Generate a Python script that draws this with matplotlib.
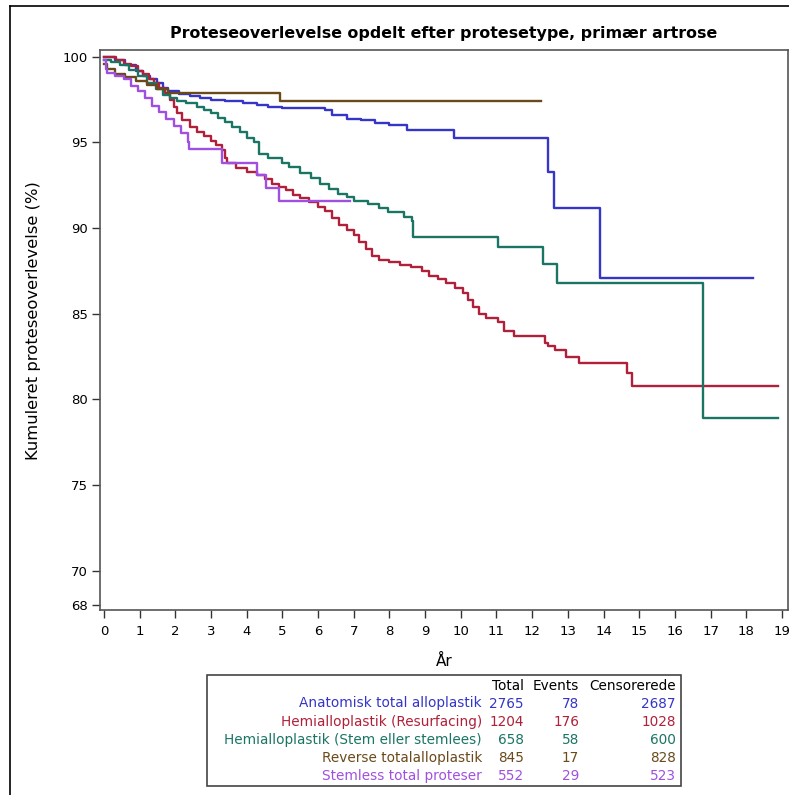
import matplotlib
matplotlib.use("Agg")
import matplotlib.pyplot as plt
from matplotlib.patches import Rectangle
from matplotlib.lines import Line2D

plt.rcParams['font.family'] = ['DejaVu Sans']

# ---------------- data ----------------
names = ["Anatomisk total alloplastik", "Hemialloplastik (Resurfacing)",
         "Hemialloplastik (Stem eller stemlees)", "Reverse totalalloplastik",
         "Stemless total proteser"]
totals = [2765, 1204, 658, 845, 552]
events = [78, 176, 58, 17, 29]
censored = [2687, 1028, 600, 828, 523]
colors = ["#3535C8", "#B0203A", "#1B7565", "#6A4A1A", "#A050E0"]

blue_t = [0, 0.3, 0.6, 0.9, 1.1, 1.3, 1.5, 1.65, 1.8, 2.1, 2.4, 2.7, 3.0, 3.4, 3.9, 4.3,
          4.6, 5.0, 6.2, 6.4, 6.8, 7.2, 7.6, 8.0, 8.5, 9.8, 12.45, 12.6, 13.9, 18.2]
blue_s = [100, 99.8, 99.5, 99.2, 98.9, 98.7, 98.5, 98.2, 98.0, 97.85, 97.7, 97.6, 97.5,
          97.4, 97.3, 97.2, 97.1, 97.0, 96.9, 96.6, 96.4, 96.3, 96.15, 96.0, 95.75,
          95.25, 93.3, 91.2, 87.1, 87.1]

red_t = [0, 0.35, 0.55, 0.75, 0.95, 1.1, 1.25, 1.4, 1.55, 1.7, 1.85, 1.95, 2.05, 2.2, 2.4,
         2.6, 2.8, 3.0, 3.15, 3.3, 3.4, 3.45, 3.7, 4.0, 4.3, 4.5, 4.7, 4.9, 5.1, 5.3, 5.5,
         5.75, 6.0, 6.2, 6.4, 6.6, 6.8, 7.0, 7.15, 7.35, 7.5, 7.7, 8.0, 8.3, 8.6, 8.9, 9.1,
         9.35, 9.6, 9.85, 10.05, 10.2, 10.35, 10.5, 10.7, 11.05, 11.2, 11.5, 12.35, 12.45,
         12.65, 12.95, 13.3, 14.65, 14.8, 18.9]
red_s = [100, 99.8, 99.6, 99.45, 99.2, 99.0, 98.7, 98.45, 98.2, 97.9, 97.5, 97.1, 96.7,
         96.3, 95.9, 95.6, 95.35, 95.1, 94.85, 94.55, 94.1, 93.8, 93.5, 93.3, 93.1, 92.85,
         92.6, 92.4, 92.2, 91.95, 91.75, 91.5, 91.25, 91.0, 90.6, 90.2, 89.9, 89.6, 89.2,
         88.8, 88.4, 88.15, 88.0, 87.85, 87.7, 87.5, 87.2, 87.0, 86.8, 86.5, 86.2, 85.8,
         85.4, 85.0, 84.75, 84.5, 84.0, 83.7, 83.3, 83.1, 82.9, 82.45, 82.15, 81.55, 80.8,
         80.8]

teal_t = [0, 0.2, 0.45, 0.7, 0.95, 1.2, 1.45, 1.66, 1.85, 2.05, 2.3, 2.6, 2.8, 3.0, 3.2,
          3.4, 3.6, 3.8, 4.0, 4.2, 4.35, 4.6, 5.0, 5.2, 5.5, 5.8, 6.05, 6.3, 6.55, 6.8, 7.0,
          7.4, 7.7, 7.97, 8.4, 8.62, 8.67, 11.03, 12.3, 12.7, 16.8, 18.9]
teal_s = [99.8, 99.7, 99.5, 99.25, 98.9, 98.5, 98.1, 97.8, 97.6, 97.45, 97.3, 97.1, 96.9,
          96.7, 96.45, 96.2, 95.9, 95.6, 95.25, 95.0, 94.3, 94.1, 93.8, 93.55, 93.2, 92.9,
          92.6, 92.3, 92.0, 91.8, 91.6, 91.4, 91.2, 90.95, 90.65, 90.4, 89.5, 88.9, 87.9,
          86.8, 78.9, 78.9]

brown_t = [0, 0.1, 0.3, 0.6, 0.9, 1.2, 1.5, 1.8, 4.94, 12.24]
brown_s = [99.6, 99.3, 99.0, 98.8, 98.6, 98.35, 98.1, 97.9, 97.4, 97.4]

purple_t = [0, 0.05, 0.1, 0.3, 0.55, 0.75, 0.95, 1.15, 1.35, 1.55, 1.75, 1.95, 2.15, 2.35,
            2.38, 3.3, 4.3, 4.55, 4.9, 6.9]
purple_s = [99.8, 99.3, 99.05, 98.9, 98.7, 98.3, 98.0, 97.6, 97.15, 96.8, 96.35, 95.95,
            95.55, 95.0, 94.6, 93.8, 93.1, 92.35, 91.6, 91.6]

series_t = [blue_t, red_t, teal_t, brown_t, purple_t]
series_s = [blue_s, red_s, teal_s, brown_s, purple_s]

xticks = list(range(0, 20))
yticks = [68, 70, 75, 80, 85, 90, 95, 100]

# ---------------- figure ----------------
W, H = 789, 795
fig = plt.figure(figsize=(W / 100, H / 100), dpi=100)
ax = fig.add_axes([100 / W, 1 - 610 / H, 688 / W, 560 / H])

for t, s, c in zip(series_t, series_s, colors):
    ax.step(t, s, where='post', color=c, lw=1.7)

ax.set_xlim(-0.11, 19.17)
ax.set_ylim(67.7, 100.4)
ax.set_xticks(xticks)
ax.set_yticks(yticks)
ax.tick_params(axis='both', direction='out', length=6, width=1, colors='#333333',
               labelsize=9.5, labelcolor='black')
ax.tick_params(axis='y', pad=3)
ax.tick_params(axis='x', pad=5)
for sp in ax.spines.values():
    sp.set_color('#555555')
    sp.set_linewidth(1.2)

ax.set_xlabel("År", fontsize=11, labelpad=11)
ax.set_ylabel("Kumuleret proteseoverlevelse (%)", fontsize=11.8)
ax.yaxis.set_label_coords(-59 / 688, (610 - 321) / 560)
ax.set_title("Proteseoverlevelse opdelt efter protesetype, primær artrose",
             fontsize=11.4, fontweight='bold', pad=9)

# outer frame (partially visible in reference)
fig.add_artist(Line2D([9.5 / W, 9.5 / W], [1 - 6 / H, 0], transform=fig.transFigure,
                      color='black', lw=1.2))
fig.add_artist(Line2D([9.5 / W, 1], [1 - 6 / H, 1 - 6 / H], transform=fig.transFigure,
                      color='black', lw=1.2))

# legend table
fig.add_artist(Rectangle((207 / W, 1 - 786 / H), (681 - 207) / W, (786 - 675) / H,
                         transform=fig.transFigure, fill=False, edgecolor='#444444', lw=1.2))
fs = 9.8
def fy(y):
    return 1 - y / H
col_x = [482 / W, 524 / W, 579 / W, 676 / W]
header_y = 686
fig.text(col_x[1], fy(header_y), "Total", ha='right', va='center', fontsize=fs)
fig.text(col_x[2], fy(header_y), "Events", ha='right', va='center', fontsize=fs)
fig.text(col_x[3], fy(header_y), "Censorerede", ha='right', va='center', fontsize=fs)
for i, (n, tt, e, cz, c) in enumerate(zip(names, totals, events, censored, colors)):
    y = fy(703.5 + i * 18.2)
    fig.text(col_x[0], y, n, ha='right', va='center', fontsize=fs, color=c)
    fig.text(col_x[1], y, str(tt), ha='right', va='center', fontsize=fs, color=c)
    fig.text(col_x[2], y, str(e), ha='right', va='center', fontsize=fs, color=c)
    fig.text(col_x[3], y, str(cz), ha='right', va='center', fontsize=fs, color=c)

fig.savefig("out.png", dpi=100)
